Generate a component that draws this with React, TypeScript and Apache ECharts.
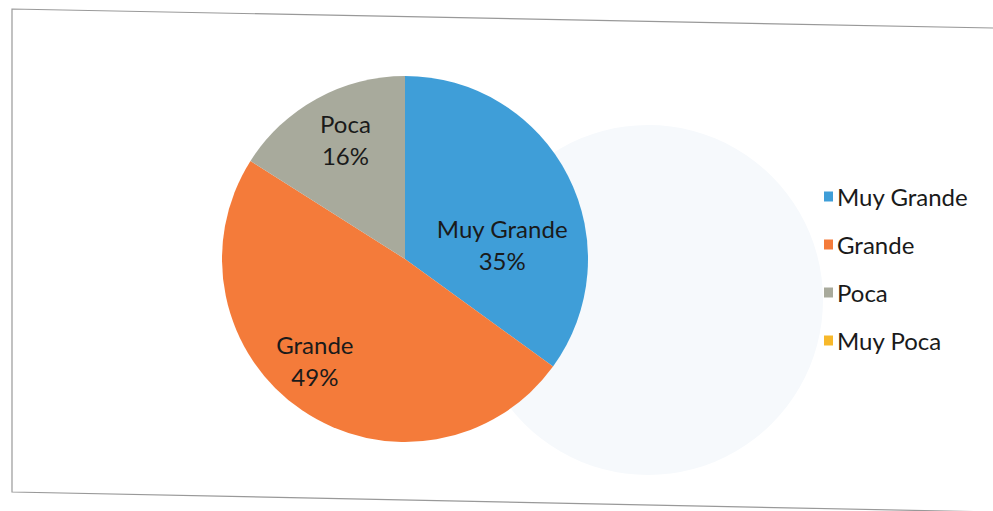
import React, { useEffect, useRef } from "react";
import * as echarts from "echarts";

const categories = ["Muy Grande", "Grande", "Poca", "Muy Poca"];
const values = [35, 49, 16, 0];
const colors = ["#3f9ed8", "#f47b3a", "#a8aa9c", "#f7b82a"];
// label nudges (styling only) to mimic Excel's label placement
const labelOffsets: number[][] = [[13, 28], [-37, 23], [-14, -37], [0, 0]];

export default function App() {
  const ref = useRef<HTMLDivElement>(null);
  useEffect(() => {
    if (!ref.current) return;
    const chart = echarts.init(ref.current, null, { renderer: "svg" });
    const font = "Lato, 'Open Sans', sans-serif";
    chart.setOption({
      animation: false,
      backgroundColor: "#ffffff",
      color: colors,
      legend: {
        orient: "vertical",
        left: 819,
        top: 179,
        itemWidth: 9,
        itemHeight: 10,
        itemGap: 23,
        icon: "rect",
        data: categories,
        textStyle: { fontFamily: font, fontSize: 24, color: "#1a1a1a", lineHeight: 25, padding: [0, 0, 0, -1] },
      },
      graphic: [
        {
          type: "circle",
          shape: { cx: 648, cy: 300, r: 175 },
          style: { fill: "#f6f9fc" },
          z: -10,
          silent: true,
        },
        {
          type: "polyline",
          shape: { points: [[993, 28], [12, 9], [12, 492], [993, 512]] },
          style: { stroke: "#999999", lineWidth: 1.2, fill: null },
          silent: true,
        },
      ],
      series: [
        {
          type: "pie",
          center: [405, 259],
          radius: 183,
          startAngle: 90,
          clockwise: true,
          avoidLabelOverlap: false,
          label: {
            position: "inside",
            formatter: "{b}\n{d}%",
            fontFamily: font,
            fontSize: 24,
            lineHeight: 32,
            color: "#1a1a1a",
          },
          labelLine: { show: false },
          data: categories.map((name, i) => ({
            name,
            value: values[i],
            label: { show: values[i] > 0, offset: labelOffsets[i] },
          })),
        },
      ],
    });
    return () => chart.dispose();
  }, []);
  return (
    <div
      ref={ref}
      style={{ position: "fixed", left: 0, top: 0, width: 993, height: 511 }}
    />
  );
}
